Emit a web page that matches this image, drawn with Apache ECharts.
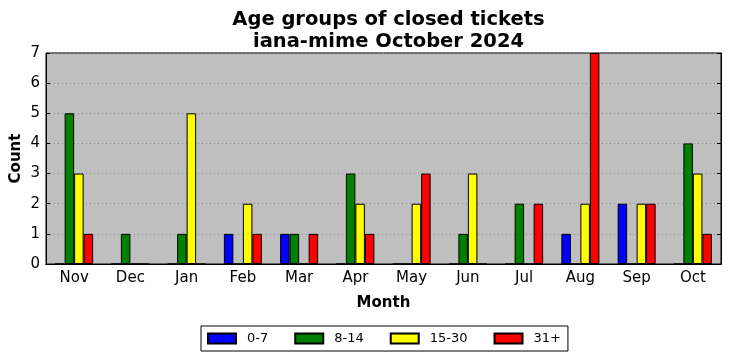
<!DOCTYPE html>
<html><head><meta charset="utf-8">
<script src="https://cdn.jsdelivr.net/npm/echarts@6/dist/echarts.min.js"></script>
<style>html,body{margin:0;padding:0;background:#fff}#c{width:731px;height:361px}</style>
</head><body><div id="c"></div>
<script>
const months = ['Nov','Dec','Jan','Feb','Mar','Apr','May','Jun','Jul','Aug','Sep','Oct'];
const seriesNames = ['0-7','8-14','15-30','31+'];
const colors = ['#0000ff','#008000','#ffff00','#ff0000'];
const age0_7   = [0,0,0,1,1,0,0,0,0,1,2,0];
const age8_14  = [5,1,1,0,1,3,0,1,2,0,0,4];
const age15_30 = [3,0,5,2,0,2,2,3,0,2,2,3];
const age31p   = [1,0,0,1,1,1,3,0,2,7,2,1];
const yTicks = [0,1,2,3,4,5,6,7];
const allData = [age0_7, age8_14, age15_30, age31p];
const font = 'DejaVu Sans';
const chart = echarts.init(document.getElementById('c'), null, {renderer:'canvas'});
chart.setOption({
  animation:false,
  textStyle:{fontFamily:font},
  title:{text:'Age groups of closed tickets\niana-mime October 2024', left:383.5, textAlign:'center', top:4,
    textStyle:{fontFamily:font, fontWeight:'bold', fontSize:19.5, lineHeight:22, color:'#000'}},
  grid:{left:46, right:10, top:53, bottom:97, show:true, backgroundColor:'#bfbfbf', borderColor:'#000', borderWidth:1,
    containLabel:false, outerBoundsMode:'none'},
  legend:{data:seriesNames, top:326, left:201, itemWidth:28, itemHeight:10, itemGap:26,
    borderColor:'#000', borderWidth:1, padding:[6,7,6,6], borderRadius:0,
    textStyle:{fontFamily:font, fontSize:13, color:'#000', padding:[0,0,0,6]}, icon:'rect'},
  xAxis:[{type:'category', data:months, name:'Month', nameLocation:'middle', nameGap:32, nameMoveOverlap:false,
    nameTextStyle:{fontFamily:font, fontWeight:'bold', fontSize:15, color:'#000'},
    axisLine:{lineStyle:{color:'#000'}}, axisTick:{inside:true, alignWithLabel:true, length:4, lineStyle:{color:'#000'}},
    axisLabel:{fontFamily:font, fontSize:15, color:'#000', margin:7}},
   {type:'category', data:months, position:'top', axisLine:{lineStyle:{color:'#000'}},
    axisTick:{inside:true, alignWithLabel:true, length:4, lineStyle:{color:'#000'}}, axisLabel:{show:false}}],
  yAxis:[{type:'value', min:0, max:7, interval:1, name:'Count', nameLocation:'middle', nameGap:22, nameMoveOverlap:false,
    nameTextStyle:{fontFamily:font, fontWeight:'bold', fontSize:15, color:'#000'},
    axisLine:{show:true, lineStyle:{color:'#000'}}, axisTick:{show:true, inside:true, length:4, lineStyle:{color:'#000'}},
    axisLabel:{fontFamily:font, fontSize:15, color:'#000', margin:6},
    splitLine:{show:true, lineStyle:{color:'#8a8a8a', type:[1,3], width:1}}},
   {type:'value', min:0, max:7, interval:1, position:'right',
    axisLine:{show:true, lineStyle:{color:'#000'}}, axisTick:{show:true, inside:true, length:4, lineStyle:{color:'#000'}},
    axisLabel:{show:false}, splitLine:{show:false}}],
  series: seriesNames.map((n,i)=>({name:n, type:'bar', data:allData[i], barWidth:9.5, barGap:'0%',
    itemStyle:{color:colors[i], borderColor:'#000', borderWidth:1}}))
});
</script></body></html>
